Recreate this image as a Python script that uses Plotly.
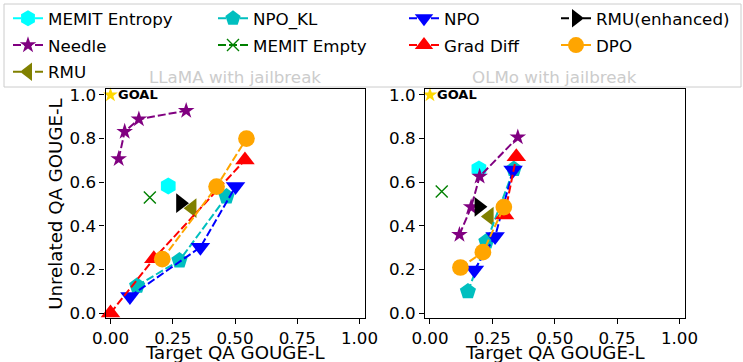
import plotly.graph_objects as go

# ---------------- data ----------------
x_tick_vals = [0.0, 0.25, 0.5, 0.75, 1.0]
x_tick_text = ["0.00", "0.25", "0.50", "0.75", "1.00"]
y_tick_vals = [0.0, 0.2, 0.4, 0.6, 0.8, 1.0]
y_tick_text = ["0.0", "0.2", "0.4", "0.6", "0.8", "1.0"]

panel_titles = ["LLaMA with jailbreak", "OLMo with jailbreak"]
x_title = "Target QA GOUGE-L"
y_title = "Unrelated QA GOUGE-L"
goal_x = [0.0]
goal_y = [1.0]

method_names = ["MEMIT Entropy", "Needle", "RMU", "NPO_KL", "MEMIT Empty",
                "NPO", "Grad Diff", "RMU(enhanced)", "DPO"]

# LLaMA with jailbreak
llama_memit_entropy_x = [0.232]
llama_memit_entropy_y = [0.583]
llama_needle_x = [0.033, 0.057, 0.114, 0.304]
llama_needle_y = [0.707, 0.832, 0.889, 0.928]
llama_rmu_x = [0.328]
llama_rmu_y = [0.481]
llama_npo_kl_x = [0.107, 0.277, 0.466]
llama_npo_kl_y = [0.125, 0.241, 0.534]
llama_memit_empty_x = [0.158]
llama_memit_empty_y = [0.530]
llama_npo_x = [0.078, 0.361, 0.502]
llama_npo_y = [0.076, 0.302, 0.580]
llama_grad_diff_x = [0.0, 0.174, 0.540]
llama_grad_diff_y = [0.0, 0.249, 0.702]
llama_rmu_enh_x = [0.281]
llama_rmu_enh_y = [0.504]
llama_dpo_x = [0.208, 0.426, 0.546]
llama_dpo_y = [0.247, 0.580, 0.800]

# OLMo with jailbreak
olmo_memit_entropy_x = [0.196]
olmo_memit_entropy_y = [0.660]
olmo_needle_x = [0.118, 0.165, 0.199, 0.352]
olmo_needle_y = [0.359, 0.486, 0.626, 0.806]
olmo_rmu_x = [0.238]
olmo_rmu_y = [0.443]
olmo_npo_kl_x = [0.152, 0.226, 0.336]
olmo_npo_kl_y = [0.099, 0.328, 0.660]
olmo_memit_empty_x = [0.047]
olmo_memit_empty_y = [0.557]
olmo_npo_x = [0.178, 0.261, 0.333]
olmo_npo_y = [0.198, 0.351, 0.656]
olmo_grad_diff_x = [0.299, 0.346]
olmo_grad_diff_y = [0.450, 0.717]
olmo_rmu_enh_x = [0.196]
olmo_rmu_enh_y = [0.487]
olmo_dpo_x = [0.122, 0.212, 0.296]
olmo_dpo_y = [0.209, 0.279, 0.486]

llama_series = [
    (llama_memit_entropy_x, llama_memit_entropy_y),
    (llama_needle_x, llama_needle_y),
    (llama_rmu_x, llama_rmu_y),
    (llama_npo_kl_x, llama_npo_kl_y),
    (llama_memit_empty_x, llama_memit_empty_y),
    (llama_npo_x, llama_npo_y),
    (llama_grad_diff_x, llama_grad_diff_y),
    (llama_rmu_enh_x, llama_rmu_enh_y),
    (llama_dpo_x, llama_dpo_y),
]
olmo_series = [
    (olmo_memit_entropy_x, olmo_memit_entropy_y),
    (olmo_needle_x, olmo_needle_y),
    (olmo_rmu_x, olmo_rmu_y),
    (olmo_npo_kl_x, olmo_npo_kl_y),
    (olmo_memit_empty_x, olmo_memit_empty_y),
    (olmo_npo_x, olmo_npo_y),
    (olmo_grad_diff_x, olmo_grad_diff_y),
    (olmo_rmu_enh_x, olmo_rmu_enh_y),
    (olmo_dpo_x, olmo_dpo_y),
]

# ---------------- styles ----------------
styles = {
    "MEMIT Entropy": dict(color="#00FFFF", symbol="hexagon", size=17),
    "Needle": dict(color="#800080", symbol="star", size=12.5),
    "RMU": dict(color="#808000", symbol="triangle-left", size=17),
    "NPO_KL": dict(color="#00BFBF", symbol="pentagon", size=17),
    "MEMIT Empty": dict(color="#008000", symbol="x-thin", size=12),
    "NPO": dict(color="#0000FF", symbol="triangle-down", size=17),
    "Grad Diff": dict(color="#FF0000", symbol="triangle-up", size=17),
    "RMU(enhanced)": dict(color="#000000", symbol="triangle-right", size=17),
    "DPO": dict(color="#FFA500", symbol="circle", size=16.7),
}
legend_of = {
    "MEMIT Entropy": "legend", "Needle": "legend", "RMU": "legend",
    "NPO_KL": "legend2", "MEMIT Empty": "legend2",
    "NPO": "legend3", "Grad Diff": "legend3",
    "RMU(enhanced)": "legend4", "DPO": "legend4",
}

W, H = 743, 362
FONT = "DejaVu Sans"
FS = 16.7
FS_LABEL = 18.2

def px_x(p):
    return p / W

def px_y(p):
    return 1 - p / H

fig = go.Figure()

def add_panel(series, xa, ya, show_legend):
    for name, (xs, ys) in zip(method_names, series):
        st = styles[name]
        marker = dict(color=st["color"], symbol=st["symbol"], size=st["size"])
        if st["symbol"] == "x-thin":
            marker["line"] = dict(color=st["color"], width=1.4)
        fig.add_trace(go.Scatter(
            x=xs, y=ys, mode="lines+markers", name=name,
            line=dict(color=st["color"], width=2, dash="8px,3px"),
            marker=marker, xaxis=xa, yaxis=ya,
            showlegend=show_legend, legend=legend_of[name], legendgroup=name,
            cliponaxis=False,
        ))
    fig.add_trace(go.Scatter(
        x=goal_x, y=goal_y, mode="markers", showlegend=False,
        marker=dict(color="#FFD700", symbol="star", size=11),
        xaxis=xa, yaxis=ya, cliponaxis=False,
    ))
    fig.add_annotation(x=goal_x[0] + 0.022, y=goal_y[0], xref=xa, yref=ya,
                       text="<b>GOAL</b>", showarrow=False, xanchor="left",
                       yanchor="middle", font=dict(family=FONT, size=13, color="black"))

add_panel(llama_series, "x", "y", True)
add_panel(olmo_series, "x2", "y2", False)

xr = [-0.02, 1.02]
yr = [-0.024, 1.026]
dom_y = [px_y(318.3), px_y(89.3)]
ax_common = dict(showgrid=False, zeroline=False, showline=True, mirror=True,
                 linecolor="black", linewidth=1.1, ticks="outside", ticklen=5,
                 tickwidth=1.1, tickcolor="black",
                 tickfont=dict(family=FONT, size=FS, color="black"),
                 automargin=False)

fig.update_layout(
    width=W, height=H,
    margin=dict(l=0, r=0, t=0, b=0),
    paper_bgcolor="white", plot_bgcolor="white",
    font=dict(family=FONT, size=FS, color="black"),
    xaxis=dict(domain=[px_x(105.5), px_x(364.5)], range=xr, anchor="y",
               tickvals=x_tick_vals, ticktext=x_tick_text, **ax_common),
    yaxis=dict(domain=dom_y, range=yr, anchor="x",
               tickvals=y_tick_vals, ticktext=y_tick_text, **ax_common),
    xaxis2=dict(domain=[px_x(425), px_x(684.5)], range=xr, anchor="y2",
                tickvals=x_tick_vals, ticktext=x_tick_text, **ax_common),
    yaxis2=dict(domain=dom_y, range=yr, anchor="x2",
                tickvals=y_tick_vals, ticktext=y_tick_text, **ax_common),
)

leg_common = dict(orientation="v", xanchor="left", yanchor="top",
                  bgcolor="rgba(0,0,0,0)", borderwidth=0, tracegroupgap=2,
                  font=dict(family=FONT, size=FS, color="black"),
                  itemclick=False, itemdoubleclick=False)
fig.update_layout(
    legend=dict(x=px_x(8), y=px_y(1), **leg_common),
    legend2=dict(x=px_x(213), y=px_y(1), **leg_common),
    legend3=dict(x=px_x(404), y=px_y(1), **leg_common),
    legend4=dict(x=px_x(556), y=px_y(1), **leg_common),
)

# legend frame
fig.add_shape(type="rect", xref="paper", yref="paper",
              x0=px_x(4), x1=px_x(741), y0=px_y(87), y1=px_y(4),
              line=dict(color="#cccccc", width=1), fillcolor="white", layer="below")

# panel titles (faded behind the legend frame)
for title, cx in zip(panel_titles, [235, 554.8]):
    fig.add_annotation(x=px_x(cx), y=px_y(77), xref="paper", yref="paper",
                       text=title, showarrow=False, xanchor="center", yanchor="middle",
                       font=dict(family=FONT, size=FS, color="#cccccc"))

# axis titles
for cx in [235, 554.8]:
    fig.add_annotation(x=px_x(cx), y=px_y(352.5), xref="paper", yref="paper",
                       text=x_title, showarrow=False, xanchor="center", yanchor="middle",
                       font=dict(family=FONT, size=FS_LABEL, color="black"))
fig.add_annotation(x=px_x(56), y=px_y((89.3 + 318.3) / 2), xref="paper", yref="paper",
                   text=y_title, showarrow=False, textangle=-90,
                   xanchor="center", yanchor="middle",
                   font=dict(family=FONT, size=FS_LABEL, color="black"))

fig.write_html("out.html", config={"displayModeBar": False},
               post_script="document.body.style.margin='0';document.body.style.padding='0';")
